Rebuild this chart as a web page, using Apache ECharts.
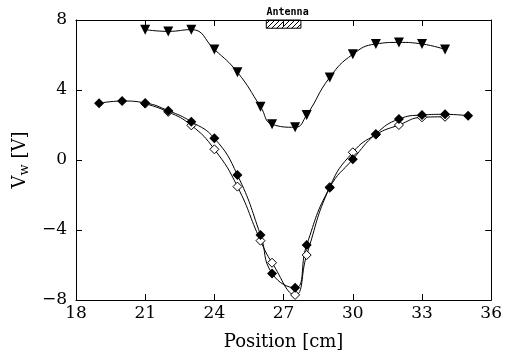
<!DOCTYPE html>
<html>
<head>
<meta charset="utf-8">
<script src="https://cdn.jsdelivr.net/npm/echarts@6/dist/echarts.min.js"></script>
<style>
  html, body { margin: 0; padding: 0; background: #fff; }
  #chart { width: 505px; height: 358px; }
</style>
</head>
<body>
<div id="chart"></div>
<script>
// measured points, position in cm / voltage in V
const triX = [21, 22, 23, 24, 25, 26, 26.5, 27.5, 28, 29, 30, 31, 32, 33, 34]
const triY = [7.45, 7.35, 7.45, 6.32, 5.01, 3.05, 2.04, 1.87, 2.57, 4.72, 6.04, 6.63, 6.72, 6.63, 6.32]

const fillX = [19, 20, 21, 22, 23, 24, 25, 26, 26.5, 27.5, 28, 29, 30, 31, 32, 33, 34, 35]
const fillY = [3.24, 3.37, 3.26, 2.82, 2.19, 1.24, -0.86, -4.29, -6.48, -7.30, -4.86, -1.58, 0.04, 1.49, 2.34, 2.57, 2.61, 2.53]

const openX = [21, 22, 23, 24, 25, 26, 26.5, 27.5, 28, 29, 30, 31, 32, 33, 34]
const openY = [3.22, 2.75, 1.98, 0.61, -1.52, -4.61, -5.87, -7.71, -5.43, -1.55, 0.44, 1.45, 2.0, 2.44, 2.47]

// antenna box: x range and y range
const antennaX = [26.25, 27.75]
const antennaY = [7.53, 8]

function zip(xs, ys) {
  return xs.map((x, i) => [x, ys[i]])
}

// hatch pattern for antenna box
const hatch = document.createElement('canvas')
hatch.width = 5
hatch.height = 5
const hctx = hatch.getContext('2d')
hctx.strokeStyle = '#000'
hctx.lineWidth = 1
hctx.beginPath()
hctx.moveTo(0, 5)
hctx.lineTo(5, 0)
hctx.stroke()

const chart = echarts.init(document.getElementById('chart'), null, { renderer: 'canvas' })

const serif = 'DejaVu Serif'
const axisCommon = {
  axisLine: { show: true, onZero: false, lineStyle: { color: '#000', width: 1 } },
  axisTick: { show: true, inside: true, length: 6, lineStyle: { color: '#000' } },
  splitLine: { show: false }
}

const option = {
  animation: false,
  backgroundColor: '#fff',
  grid: { left: 76, right: 12, top: 20, bottom: 58 },
  xAxis: [
    Object.assign({}, axisCommon, {
      type: 'value', position: 'bottom', min: 18, max: 36, interval: 3,
      name: 'Position [cm]', nameLocation: 'middle', nameGap: 33,
      nameTextStyle: { fontFamily: serif, fontSize: 18, color: '#000' },
      axisLabel: { fontFamily: serif, fontSize: 17, color: '#000', margin: 5 }
    }),
    Object.assign({}, axisCommon, {
      type: 'value', position: 'top', min: 18, max: 36, interval: 3,
      axisLabel: { show: false }
    })
  ],
  yAxis: [
    Object.assign({}, axisCommon, {
      type: 'value', position: 'left', min: -8, max: 8, interval: 4,
      name: '{v|V}{s|w}{v| [V]}', nameLocation: 'middle', nameGap: 43,
      nameTextStyle: {
        color: '#000',
        rich: {
          v: { fontFamily: serif, fontSize: 18, color: '#000' },
          s: { fontFamily: serif, fontSize: 13, color: '#000', verticalAlign: 'bottom', padding: [9, 0, 0, 0] }
        }
      },
      axisLabel: {
        fontFamily: serif, fontSize: 17, color: '#000', margin: 9,
        formatter: v => String(v).replace('-', '\u2212')
      }
    }),
    Object.assign({}, axisCommon, {
      type: 'value', position: 'right', min: -8, max: 8, interval: 4,
      axisLabel: { show: false }
    })
  ],
  series: [
    {
      type: 'line', data: zip(triX, triY), smooth: 0.5,
      symbol: 'triangle', symbolRotate: 180, symbolSize: 10,
      lineStyle: { color: '#000', width: 1 },
      itemStyle: { color: '#000' }
    },
    {
      type: 'line', data: zip(openX, openY), smooth: 0.5,
      symbol: 'diamond', symbolSize: 9,
      lineStyle: { color: '#000', width: 1 },
      itemStyle: { color: '#fff', borderColor: '#000', borderWidth: 1 }
    },
    {
      type: 'line', data: zip(fillX, fillY), smooth: 0.5,
      symbol: 'diamond', symbolSize: 10,
      lineStyle: { color: '#000', width: 1 },
      itemStyle: { color: '#000' }
    },
    {
      type: 'custom',
      data: [[antennaX[0], antennaY[0], antennaX[1], antennaY[1]]],
      renderItem: (params, api) => {
        const p0 = api.coord([api.value(0), api.value(3)])
        const p1 = api.coord([api.value(2), api.value(1)])
        return {
          type: 'group',
          children: [
            {
              type: 'rect',
              shape: { x: p0[0], y: p0[1], width: p1[0] - p0[0], height: p1[1] - p0[1] },
              style: { fill: { image: hatch, repeat: 'repeat' }, stroke: '#000', lineWidth: 1 }
            },
            {
              type: 'text',
              style: {
                x: (p0[0] + p1[0]) / 2 + 4, y: p0[1] - 3,
                text: 'Antenna', align: 'center', verticalAlign: 'bottom',
                font: 'bold 10px "DejaVu Sans Mono"', fill: '#000'
              }
            }
          ]
        }
      },
      clip: false,
      z: 5
    }
  ]
}

chart.setOption(option)
</script>
</body>
</html>
